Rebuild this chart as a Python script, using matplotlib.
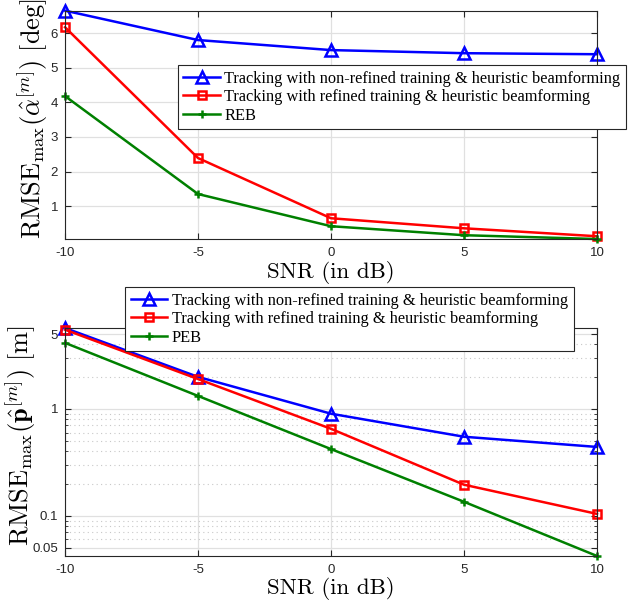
import matplotlib
matplotlib.use("Agg")
import matplotlib.pyplot as plt
from matplotlib.ticker import FixedLocator, FixedFormatter, LogLocator, NullFormatter

plt.rcParams['mathtext.fontset'] = 'cm'

snr = [-10, -5, 0, 5, 10]

# top panel: angle RMSE [deg]
ang_nonref = [6.65, 5.8, 5.51, 5.42, 5.39]
ang_ref = [6.17, 2.39, 0.65, 0.36, 0.13]
ang_bound = [4.18, 1.35, 0.42, 0.16, 0.05]

# bottom panel: position RMSE [m]
pos_nonref = [5.7, 1.99, 0.9, 0.548, 0.44]
pos_ref = [5.5, 1.9, 0.65, 0.195, 0.104]
pos_bound = [4.14, 1.32, 0.42, 0.135, 0.042]

labels_top = ["Tracking with non-refined training & heuristic beamforming",
              "Tracking with refined training & heuristic beamforming",
              "REB"]
labels_bot = ["Tracking with non-refined training & heuristic beamforming",
              "Tracking with refined training & heuristic beamforming",
              "PEB"]

tick_font = dict(family='Liberation Sans', size=9.5, color='#262626')
xlab = 'SNR (in dB)'


def style_axes(ax):
    ax.set_xlim(-10, 10)
    ax.set_xticks(snr)
    ax.set_xticklabels(['-10', '-5', '0', '5', '10'], **tick_font)
    ax.tick_params(direction='in', which='both', top=True, right=True,
                   color='#262626', length=4)
    ax.tick_params(axis='x', pad=5.5)
    ax.tick_params(axis='y', pad=5)
    ax.tick_params(which='minor', length=2.5)
    for s in ax.spines.values():
        s.set_color('#262626')
        s.set_linewidth(0.8)
    ax.grid(True, which='major', color='#e0e0e0', linewidth=0.9)
    ax.set_axisbelow(True)


def draw(ax, a, b, c, labels):
    ax.plot(snr, a, color='blue', lw=1.8, marker='^', ms=8, mfc='none',
            mew=1.8, label=labels[0], clip_on=False)
    ax.plot(snr, b, color='red', lw=1.8, marker='s', ms=5.5, mfc='none',
            mew=1.8, label=labels[1], clip_on=False)
    ax.plot(snr, c, color='green', lw=1.8, marker='+', ms=6, mew=1.8,
            label=labels[2], clip_on=False)


def add_legend(ax, x, y):
    leg = ax.legend(loc='upper left', bbox_to_anchor=(x, y),
                    bbox_transform=fig.transFigure,
                    prop=dict(family='Liberation Serif', size=11.8),
                    frameon=True, fancybox=False, edgecolor='#262626', framealpha=1,
                    handlelength=2.2, borderpad=0.35, labelspacing=0.15,
                    handletextpad=0.3, borderaxespad=0)
    leg.get_frame().set_linewidth(0.8)
    return leg


fig = plt.figure(figsize=(6.44, 6.01), dpi=100)

ax1 = fig.add_axes([0.101, 0.6023, 0.826, 0.380])
draw(ax1, ang_nonref, ang_ref, ang_bound, labels_top)
style_axes(ax1)
ax1.set_ylim(0.05, 6.65)
ax1.set_yticks([1, 2, 3, 4, 5, 6])
ax1.set_yticklabels(['1', '2', '3', '4', '5', '6'], **tick_font)
ax1.set_xlabel(xlab, fontfamily='cmr10', fontsize=16.5, labelpad=2)
ax1.set_ylabel(r'$\mathrm{RMSE}_{\max}(\hat{\alpha}^{[m]})\ [\mathrm{deg}]$', fontsize=19)
ax1.yaxis.label.set_horizontalalignment('left')
ax1.yaxis.set_label_coords(-0.028, 0.0)
add_legend(ax1, 0.276, 0.892)

ax2 = fig.add_axes([0.101, 0.0749, 0.826, 0.3793])
draw(ax2, pos_nonref, pos_ref, pos_bound, labels_bot)
style_axes(ax2)
ax2.set_yscale('log')
ax2.set_ylim(0.042, 5.7)
ax2.yaxis.set_major_locator(FixedLocator([0.05, 0.1, 1, 5]))
ax2.yaxis.set_major_formatter(FixedFormatter(['0.05', '0.1', '1', '5']))
ax2.yaxis.set_minor_locator(LogLocator(base=10, subs=range(2, 10)))
ax2.yaxis.set_minor_formatter(NullFormatter())
for t in ax2.get_yticklabels():
    t.set_fontfamily('Liberation Sans')
    t.set_fontsize(9.5)
    t.set_color('#262626')
ax2.grid(True, which='minor', axis='y', color='#c8c8c8', linestyle=(0, (1, 3)), linewidth=0.8)
ax2.set_xlabel(xlab, fontfamily='cmr10', fontsize=16.5, labelpad=1)
ax2.set_ylabel(r'$\mathrm{RMSE}_{\max}(\hat{\mathbf{p}}^{[m]})\ [\mathrm{m}]$', fontsize=19)
ax2.yaxis.label.set_horizontalalignment('left')
ax2.yaxis.set_label_coords(-0.051, 0.044)
add_legend(ax2, 0.194, 0.5225)

fig.savefig('out.png', dpi=100)
